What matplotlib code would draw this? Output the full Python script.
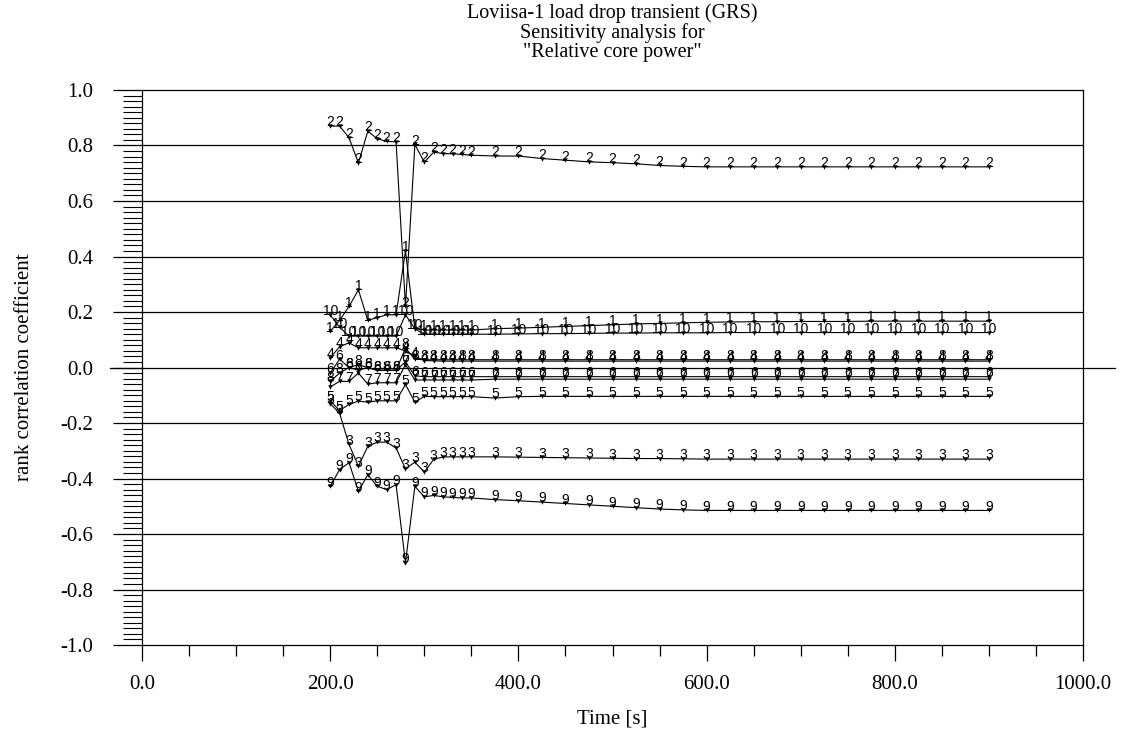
import matplotlib
matplotlib.use("Agg")
import matplotlib.pyplot as plt
from matplotlib.ticker import MultipleLocator, FormatStrFormatter

# time points (s)
TIME = [200, 210, 220, 230, 240, 250, 260, 270, 280, 290, 300, 310, 320, 330, 340, 350,
        375, 400, 425, 450, 475, 500, 525, 550, 575, 600, 625, 650, 675, 700, 725, 750,
        775, 800, 825, 850, 875, 900]

# rank correlation coefficients, one list per input parameter
S1 = [0.13, 0.17, 0.22, 0.28, 0.17, 0.18, 0.19, 0.19, 0.42, 0.14, 0.135, 0.135, 0.135, 0.135, 0.135, 0.135,
      0.14, 0.142, 0.145, 0.148, 0.151, 0.154, 0.157, 0.159, 0.161, 0.163, 0.164, 0.165, 0.165, 0.166, 0.166,
      0.166, 0.167, 0.167, 0.167, 0.167, 0.167, 0.167]
S2 = [0.87, 0.87, 0.828, 0.737, 0.852, 0.824, 0.815, 0.813, 0.22, 0.804, 0.74, 0.776, 0.771, 0.77, 0.768, 0.765,
      0.762, 0.762, 0.753, 0.747, 0.741, 0.738, 0.734, 0.728, 0.725, 0.723, 0.723, 0.723, 0.723, 0.723, 0.723,
      0.723, 0.723, 0.723, 0.723, 0.723, 0.723, 0.723]
S3 = [-0.13, -0.165, -0.277, -0.356, -0.284, -0.269, -0.269, -0.29, -0.365, -0.341, -0.377, -0.331, -0.322, -0.322,
      -0.322, -0.322, -0.322, -0.323, -0.324, -0.325, -0.326, -0.327, -0.328, -0.328, -0.329, -0.33, -0.33, -0.33,
      -0.33, -0.33, -0.33, -0.33, -0.33, -0.33, -0.33, -0.33, -0.33, -0.33]
S4 = [0.035, 0.075, 0.089, 0.071, 0.071, 0.071, 0.071, 0.071, 0.06, 0.04, 0.025, 0.024, 0.023, 0.023, 0.023,
      0.023, 0.023, 0.023, 0.023, 0.023, 0.023, 0.023, 0.023, 0.023, 0.023, 0.023, 0.023, 0.023, 0.023, 0.023,
      0.023, 0.023, 0.023, 0.023, 0.023, 0.023, 0.023, 0.023]
S5 = [-0.12, -0.155, -0.133, -0.121, -0.125, -0.12, -0.12, -0.12, -0.061, -0.125, -0.104, -0.105, -0.105,
      -0.105, -0.105, -0.105, -0.11, -0.105, -0.104, -0.104, -0.104, -0.104, -0.104, -0.104, -0.104, -0.104,
      -0.104, -0.104, -0.104, -0.104, -0.104, -0.104, -0.104, -0.104, -0.104, -0.104, -0.104, -0.104]
S6 = [-0.02, 0.03, 0.0, -0.01, 0.0, -0.01, -0.01, -0.01, 0.02, -0.03, -0.033, -0.033, -0.033, -0.033, -0.033,
      -0.033, -0.033, -0.033, -0.033, -0.033, -0.033, -0.033, -0.033, -0.033, -0.033, -0.033, -0.033, -0.033,
      -0.033, -0.033, -0.033, -0.033, -0.033, -0.033, -0.033, -0.033, -0.033, -0.033]
S7 = [-0.07, -0.05, -0.05, -0.02, -0.06, -0.055, -0.055, -0.055, 0.01, -0.045, -0.045, -0.045, -0.045, -0.045,
      -0.045, -0.045, -0.042, -0.042, -0.042, -0.042, -0.042, -0.042, -0.042, -0.042, -0.042, -0.042, -0.042,
      -0.042, -0.042, -0.042, -0.042, -0.042, -0.042, -0.042, -0.042, -0.042, -0.042, -0.042]
S8 = [-0.05, -0.02, 0.0, 0.01, 0.0, -0.01, -0.01, -0.01, 0.07, 0.03, 0.028, 0.028, 0.028, 0.028, 0.028, 0.028,
      0.028, 0.028, 0.028, 0.028, 0.028, 0.028, 0.028, 0.028, 0.028, 0.028, 0.028, 0.028, 0.028, 0.028, 0.028,
      0.028, 0.028, 0.028, 0.028, 0.028, 0.028, 0.028]
S9 = [-0.428, -0.368, -0.343, -0.446, -0.386, -0.428, -0.44, -0.422, -0.704, -0.428, -0.466, -0.461, -0.466,
      -0.468, -0.47, -0.47, -0.476, -0.48, -0.485, -0.49, -0.495, -0.5, -0.505, -0.51, -0.513, -0.515, -0.515,
      -0.515, -0.515, -0.515, -0.515, -0.515, -0.515, -0.515, -0.515, -0.515, -0.515, -0.515]
S10 = [0.19, 0.145, 0.113, 0.113, 0.113, 0.113, 0.113, 0.113, 0.19, 0.14, 0.12, 0.12, 0.12, 0.12, 0.12, 0.12,
       0.12, 0.121, 0.122, 0.122, 0.123, 0.124, 0.124, 0.125, 0.125, 0.125, 0.126, 0.126, 0.126, 0.126, 0.126,
       0.126, 0.126, 0.126, 0.126, 0.126, 0.126, 0.126]

SERIES = [("1", S1), ("2", S2), ("3", S3), ("4", S4), ("5", S5),
          ("6", S6), ("7", S7), ("8", S8), ("9", S9), ("10", S10)]

SERIF = ["Liberation Serif", "DejaVu Serif"]
SANS = ["Liberation Sans", "DejaVu Sans"]

fig = plt.figure(figsize=(11.25, 7.31), dpi=100)
ax = fig.add_axes([0.1262, 0.1176, 0.8365, 0.7593])

for label, vals in SERIES:
    ax.plot(TIME, vals, color="black", lw=0.8, marker="v", ms=3.2,
            markerfacecolor="black", markeredgewidth=0, zorder=3)
    for t, v in zip(TIME, vals):
        ax.text(t, v - 0.012, label, fontsize=10, family=SANS,
                ha="center", va="bottom", zorder=4)

# horizontal grid lines
for y in [0.8, 0.6, 0.4, 0.2, -0.2, -0.4, -0.6, -0.8]:
    ax.axhline(y, color="black", lw=0.9, zorder=1)
# zero line runs past both axes
ax.plot([-34, 1034], [0, 0], color="black", lw=0.9, clip_on=False, zorder=1)

ax.set_xlim(0, 1000)
ax.set_ylim(-1.0, 1.0)
ax.xaxis.set_major_locator(MultipleLocator(200))
ax.xaxis.set_minor_locator(MultipleLocator(50))
ax.yaxis.set_major_locator(MultipleLocator(0.2))
ax.yaxis.set_minor_locator(MultipleLocator(0.02))
ax.xaxis.set_major_formatter(FormatStrFormatter("%.1f"))
ax.yaxis.set_major_formatter(FormatStrFormatter("%.1f"))
ax.tick_params(axis="x", which="major", direction="out", length=11.5, width=0.9, pad=10)
ax.tick_params(axis="x", which="minor", direction="out", length=8, width=0.9)
ax.tick_params(axis="y", which="major", direction="out", length=21, width=0.9, pad=14)
ax.tick_params(axis="y", which="minor", direction="out", length=13.5, width=0.8)
for lab in ax.get_xticklabels() + ax.get_yticklabels():
    lab.set_fontfamily(SERIF)
    lab.set_fontsize(15)
for sp in ax.spines.values():
    sp.set_linewidth(0.9)

ax.set_xlabel("Time [s]", fontsize=15, family=SERIF, labelpad=11)
ax.set_ylabel("rank correlation coefficient", fontsize=15, family=SERIF, labelpad=19)
fig.text(0.544, 0.995, "Loviisa-1 load drop transient (GRS)\nSensitivity analysis for\n\"Relative core power\"",
         ha="center", va="top", fontsize=14.5, family=SERIF, linespacing=1.0)

fig.savefig("out.png", dpi=100, facecolor="white")
